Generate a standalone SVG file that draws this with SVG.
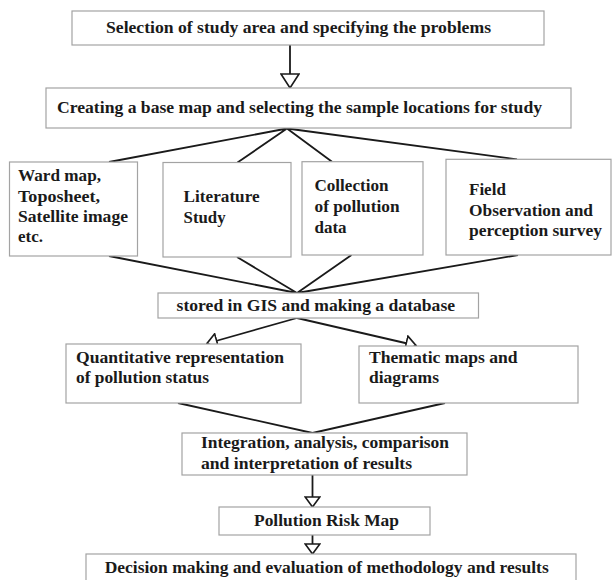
<svg xmlns="http://www.w3.org/2000/svg" width="612" height="580" viewBox="0 0 612 580">
<style>
.box{fill:#fff;stroke:#a3a3a3;stroke-width:1.2}
.t{font-family:"Liberation Serif","DejaVu Serif","Times New Roman",Times,serif;font-weight:700;font-size:17px;fill:#1a1a1a}
.t16{font-size:16px}
.ln{fill:none;stroke:#1a1a1a;stroke-width:1.8}
</style>
<defs>
<marker id="big" markerUnits="userSpaceOnUse" viewBox="0 0 16 20" markerWidth="16" markerHeight="20" refX="15" refY="10" orient="auto">
<path d="M1,1 L15,10 L1,19 Z" fill="#fff" stroke="#1a1a1a" stroke-width="1.6"/>
</marker>
<marker id="sm" markerUnits="userSpaceOnUse" viewBox="0 0 12 17" markerWidth="12" markerHeight="17" refX="11" refY="8.5" orient="auto">
<path d="M1,1.2 L11,8.5 L1,15.8 Z" fill="#fff" stroke="#1a1a1a" stroke-width="1.6"/>
</marker>
</defs>
<rect width="612" height="580" fill="#fff"/>
<g id="connectors">
<line class="ln" x1="290" y1="45" x2="290" y2="88" marker-end="url(#big)"/>
<polyline class="ln" points="109,162 287,128.5 237.5,162.5"/>
<polyline class="ln" points="332,161.7 287,128.5 517,159.3"/>
<polyline class="ln" points="109,256 297,293 237,257"/>
<polyline class="ln" points="351.5,255 297,293 518,255"/>
<line class="ln" x1="297" y1="318" x2="207" y2="343.5" marker-end="url(#sm)"/>
<line class="ln" x1="297" y1="318" x2="416" y2="345.5" marker-end="url(#sm)"/>
<polyline class="ln" points="178,403 312.5,433 445,403"/>
<line class="ln" x1="312.5" y1="475" x2="312.5" y2="507" marker-end="url(#sm)"/>
<line class="ln" x1="312.5" y1="535" x2="312.5" y2="554" marker-end="url(#sm)"/>
</g>
<g id="n1">
<rect class="box" x="72" y="11" width="472" height="34"/>
<text class="t t16" x="106" y="33" textLength="385" lengthAdjust="spacingAndGlyphs">Selection of study area and specifying the problems</text>
</g>
<g id="n2">
<rect class="box" x="46" y="88" width="525" height="40"/>
<text class="t" x="57" y="113" textLength="485" lengthAdjust="spacingAndGlyphs">Creating a base map and selecting the sample locations for study</text>
</g>
<g id="n3">
<rect class="box" x="9.5" y="162" width="128" height="94"/>
<text class="t" x="18" y="181" textLength="83" lengthAdjust="spacingAndGlyphs">Ward map,</text>
<text class="t" x="18" y="201.5" textLength="82" lengthAdjust="spacingAndGlyphs">Toposheet,</text>
<text class="t" x="18" y="221.5" textLength="110" lengthAdjust="spacingAndGlyphs">Satellite image</text>
<text class="t" x="18" y="241.5">etc.</text>
</g>
<g id="n4">
<rect class="box" x="163" y="162.5" width="128" height="94.5"/>
<text class="t" x="183.6" y="201.7" textLength="76" lengthAdjust="spacingAndGlyphs">Literature</text>
<text class="t" x="183.6" y="222.7" textLength="42" lengthAdjust="spacingAndGlyphs">Study</text>
</g>
<g id="n5">
<rect class="box" x="302" y="161.7" width="121" height="93.3"/>
<text class="t" x="314.5" y="190.7" textLength="74" lengthAdjust="spacingAndGlyphs">Collection</text>
<text class="t" x="314.5" y="211.7" textLength="85" lengthAdjust="spacingAndGlyphs">of pollution</text>
<text class="t" x="314.5" y="232.7">data</text>
</g>
<g id="n6">
<rect class="box" x="446" y="159.3" width="165" height="95.7"/>
<text class="t" x="469" y="195">Field</text>
<text class="t" x="469" y="215.7" textLength="124" lengthAdjust="spacingAndGlyphs">Observation and</text>
<text class="t" x="469" y="236" textLength="133" lengthAdjust="spacingAndGlyphs">perception survey</text>
</g>
<g id="n7">
<rect class="box" x="158" y="293" width="320.5" height="25"/>
<text class="t" x="176.6" y="310.7" textLength="278.5" lengthAdjust="spacingAndGlyphs">stored in GIS and making a database</text>
</g>
<g id="n8">
<rect class="box" x="66" y="344" width="235" height="59"/>
<text class="t" x="76" y="363.3" textLength="208" lengthAdjust="spacingAndGlyphs">Quantitative representation</text>
<text class="t" x="76" y="383.3" textLength="133" lengthAdjust="spacingAndGlyphs">of pollution status</text>
</g>
<g id="n9">
<rect class="box" x="359" y="346" width="219" height="57"/>
<text class="t" x="369" y="363" textLength="148.6" lengthAdjust="spacingAndGlyphs">Thematic maps and</text>
<text class="t" x="369" y="383" textLength="70" lengthAdjust="spacingAndGlyphs">diagrams</text>
</g>
<g id="n10">
<rect class="box" x="182" y="433" width="285" height="42"/>
<text class="t" x="201" y="448.3" textLength="248" lengthAdjust="spacingAndGlyphs">Integration, analysis, comparison</text>
<text class="t" x="201" y="469" textLength="211" lengthAdjust="spacingAndGlyphs">and interpretation of results</text>
</g>
<g id="n11">
<rect class="box" x="219" y="507" width="211" height="28"/>
<text class="t" x="254" y="525.7" textLength="145" lengthAdjust="spacingAndGlyphs">Pollution Risk Map</text>
</g>
<g id="n12">
<rect class="box" x="86" y="554" width="490" height="40"/>
<text class="t" x="104.7" y="572.7" textLength="444" lengthAdjust="spacingAndGlyphs">Decision making and evaluation of methodology and results</text>
</g>
</svg>
